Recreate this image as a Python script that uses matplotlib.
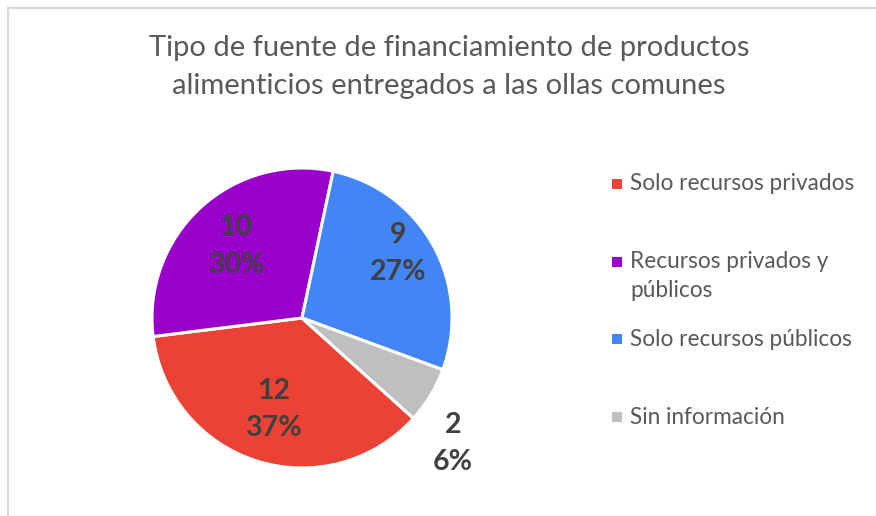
import matplotlib.pyplot as plt
import numpy as np
from matplotlib.patches import Rectangle

W, H = 876, 516
DPI = 100

TITLE = "Tipo de fuente de financiamiento de productos\nalimenticios entregados a las ollas comunes"
categories = ["Solo recursos privados", "Recursos privados y\npúblicos",
              "Solo recursos públicos", "Sin información"]
counts = [12, 10, 9, 2]
percents = [37, 30, 27, 6]
colors = ["#EA4335", "#9900CC", "#4285F4", "#BFBFBF"]

# layout (pixels from top-left)
PIE_CX, PIE_CY, PIE_R = 302, 318, 150
LABEL_DIST = [0.64, 0.65, 0.77, 1.31]
LABEL_TURN = [0, 0, 5, -8.6]  # degrees, counter-clockwise
LEGEND_Y = [186, 264, 341, 419]
TEXT_COLOR = "#595959"
LABEL_COLOR = "#404040"
FONT = ["Lato", "DejaVu Sans"]


def fx(px):
    return px / W


def fy(py):
    return 1 - py / H


fig = plt.figure(figsize=(W / DPI, H / DPI), dpi=DPI)
fig.patch.set_facecolor("white")

# chart frame (right/bottom edges are cropped off in the original)
fig.add_artist(Rectangle((fx(8), -0.5), 2, fy(8) + 0.5, transform=fig.transFigure,
                         fill=False, edgecolor="#D9D9D9", linewidth=1.5))

fig.text(fx(449), fy(67), TITLE, ha="center", va="center", fontsize=21,
         color=TEXT_COLOR, family=FONT, linespacing=1.55)

ax = fig.add_axes([fx(PIE_CX - PIE_R), fy(PIE_CY + PIE_R), 2 * PIE_R / W, 2 * PIE_R / H])
total = sum(counts)
# first slice begins 132 degrees clockwise from 12 o'clock
wedges, _ = ax.pie(counts, colors=colors, startangle=90 - 132,
                   counterclock=False, radius=1,
                   wedgeprops=dict(edgecolor="white", linewidth=2.2))
ax.set_xlim(-1, 1)
ax.set_ylim(-1, 1)
ax.set_aspect("equal")

for w, n, p, d, t in zip(wedges, counts, percents, LABEL_DIST, LABEL_TURN):
    mid = np.deg2rad((w.theta1 + w.theta2) / 2 + t)
    x, y = d * np.cos(mid), d * np.sin(mid)
    ax.text(x, y, f"{n}\n{p}%", ha="center", va="center", fontsize=20.5,
            fontweight="bold", color=LABEL_COLOR, family=FONT, linespacing=1.55)

for cat, col, y in zip(categories, colors, LEGEND_Y):
    fig.add_artist(Rectangle((fx(612), fy(y + 3)), 10 / W, 10 / H,
                             transform=fig.transFigure, facecolor=col, edgecolor="none"))
    fig.text(fx(630), fy(y - 12.5), cat, ha="left", va="top", fontsize=16.3,
             color=TEXT_COLOR, family=FONT, linespacing=1.45)

fig.savefig("out.png", dpi=DPI, facecolor="white")
